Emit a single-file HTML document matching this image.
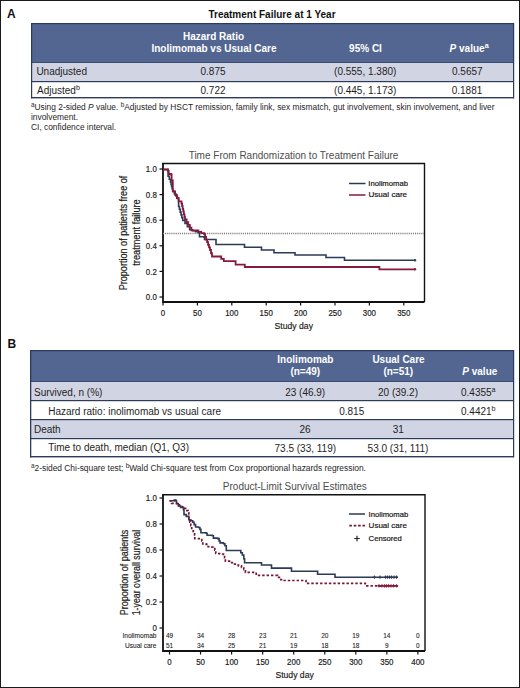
<!DOCTYPE html>
<html><head><meta charset="utf-8"><style>
html,body{margin:0;padding:0;background:#fff;}
#fig{position:relative;width:520px;height:688px;box-sizing:border-box;border:1px solid #1a1a1a;overflow:hidden;background:#fff;}
svg{position:absolute;left:-1px;top:-1px;font-family:"Liberation Sans", sans-serif;}
</style></head><body>
<div id="fig"><svg width="520" height="688" viewBox="0 0 520 688">
<text x="7.0" y="17.6" font-size="12" text-anchor="start" font-weight="bold" fill="#111" >A</text>
<text x="7.4" y="348.3" font-size="12" text-anchor="start" font-weight="bold" fill="#111" >B</text>
<text x="272" y="18.2" font-size="10" text-anchor="middle" font-weight="bold" fill="#111" >Treatment Failure at 1 Year</text>
<rect x="31" y="23" width="483" height="40" fill="#526691"/>
<rect x="31" y="63" width="483" height="18" fill="#d1d4e3"/>
<rect x="31" y="82" width="483" height="16" fill="#ffffff"/>
<rect x="31" y="23" width="483" height="1.2" fill="#2c3a5c"/>
<rect x="31" y="62" width="483" height="1" fill="#3b4d75"/>
<rect x="31" y="81" width="483" height="1.2" fill="#2c3a5c"/>
<rect x="31" y="97" width="483" height="1.4" fill="#2c3a5c"/>
<rect x="31" y="23" width="1.2" height="75.4" fill="#2c3a5c"/>
<rect x="513" y="23" width="1.2" height="75.4" fill="#2c3a5c"/>
<text x="213.5" y="40" font-size="10" text-anchor="middle" font-weight="bold" fill="#ffffff" >Hazard Ratio</text>
<text x="214" y="51.7" font-size="10" text-anchor="middle" font-weight="bold" fill="#ffffff" >Inolimomab vs Usual Care</text>
<text x="365.5" y="51.7" font-size="10" text-anchor="middle" font-weight="bold" fill="#ffffff" >95% CI</text>
<text x="449.6" y="51.7" font-size="10" font-weight="bold" fill="#ffffff"><tspan font-style="italic">P</tspan> value<tspan dy="-3.8" font-size="7.2">a</tspan></text>
<text x="36.4" y="74.7" font-size="10" text-anchor="start" font-weight="normal" fill="#1e1e1e" >Unadjusted</text>
<text x="37" y="93.5" font-size="10" fill="#1e1e1e">Adjusted<tspan dy="-3.8" font-size="7.2">b</tspan></text>
<text x="213" y="74.5" font-size="10" text-anchor="middle" font-weight="normal" fill="#1e1e1e" >0.875</text>
<text x="213" y="93.5" font-size="10" text-anchor="middle" font-weight="normal" fill="#1e1e1e" >0.722</text>
<text x="365.2" y="74.5" font-size="10" text-anchor="middle" font-weight="normal" fill="#1e1e1e" >(0.555, 1.380)</text>
<text x="365.2" y="93.5" font-size="10" text-anchor="middle" font-weight="normal" fill="#1e1e1e" >(0.445, 1.173)</text>
<text x="467.3" y="74.5" font-size="10" text-anchor="middle" font-weight="normal" fill="#1e1e1e" >0.5657</text>
<text x="467.0" y="93.5" font-size="10" text-anchor="middle" font-weight="normal" fill="#1e1e1e" >0.1881</text>
<text x="31" y="109.5" font-size="8.4" fill="#1e1e1e"><tspan dy="-3" font-size="6.3">a</tspan><tspan dy="3">Using 2-sided </tspan><tspan font-style="italic">P</tspan> value. <tspan dy="-3" font-size="6.3">b</tspan><tspan dy="3">Adjusted by HSCT remission, family link, sex mismatch, gut involvement, skin involvement, and liver</tspan></text>
<text x="31" y="119.8" font-size="8.4" text-anchor="start" font-weight="normal" fill="#1e1e1e" >involvement.</text>
<text x="31" y="130" font-size="8.4" text-anchor="start" font-weight="normal" fill="#1e1e1e" >CI, confidence interval.</text>
<text x="293.5" y="158.8" font-size="10" text-anchor="middle" font-weight="normal" fill="#4d4d4d" >Time From Randomization to Treatment Failure</text>
<path d="M162.1,163.5 H424.5 V302" fill="none" stroke="#111111" stroke-width="1.4"/>
<path d="M163,163 V302 H424.5" fill="none" stroke="#111111" stroke-width="1.8"/>
<line x1="159.5" y1="297" x2="163" y2="297" stroke="#111111" stroke-width="1.2"/>
<text transform="translate(156.8,300.1) scale(0.9,1)" x="0" y="0" font-size="8.8" text-anchor="end" fill="#1a1a1a" stroke="#1a1a1a" stroke-width="0.18">0.0</text>
<line x1="159.5" y1="271.4" x2="163" y2="271.4" stroke="#111111" stroke-width="1.2"/>
<text transform="translate(156.8,274.5) scale(0.9,1)" x="0" y="0" font-size="8.8" text-anchor="end" fill="#1a1a1a" stroke="#1a1a1a" stroke-width="0.18">0.2</text>
<line x1="159.5" y1="245.8" x2="163" y2="245.8" stroke="#111111" stroke-width="1.2"/>
<text transform="translate(156.8,248.9) scale(0.9,1)" x="0" y="0" font-size="8.8" text-anchor="end" fill="#1a1a1a" stroke="#1a1a1a" stroke-width="0.18">0.4</text>
<line x1="159.5" y1="220.2" x2="163" y2="220.2" stroke="#111111" stroke-width="1.2"/>
<text transform="translate(156.8,223.29999999999998) scale(0.9,1)" x="0" y="0" font-size="8.8" text-anchor="end" fill="#1a1a1a" stroke="#1a1a1a" stroke-width="0.18">0.6</text>
<line x1="159.5" y1="194.6" x2="163" y2="194.6" stroke="#111111" stroke-width="1.2"/>
<text transform="translate(156.8,197.7) scale(0.9,1)" x="0" y="0" font-size="8.8" text-anchor="end" fill="#1a1a1a" stroke="#1a1a1a" stroke-width="0.18">0.8</text>
<line x1="159.5" y1="169.0" x2="163" y2="169.0" stroke="#111111" stroke-width="1.2"/>
<text transform="translate(156.8,172.1) scale(0.9,1)" x="0" y="0" font-size="8.8" text-anchor="end" fill="#1a1a1a" stroke="#1a1a1a" stroke-width="0.18">1.0</text>
<line x1="163.0" y1="302" x2="163.0" y2="305.5" stroke="#111111" stroke-width="1.2"/>
<text transform="translate(163.0,316.1) scale(0.9,1)" x="0" y="0" font-size="8.8" text-anchor="middle" fill="#1a1a1a" stroke="#1a1a1a" stroke-width="0.18">0</text>
<line x1="197.4" y1="302" x2="197.4" y2="305.5" stroke="#111111" stroke-width="1.2"/>
<text transform="translate(197.4,316.1) scale(0.9,1)" x="0" y="0" font-size="8.8" text-anchor="middle" fill="#1a1a1a" stroke="#1a1a1a" stroke-width="0.18">50</text>
<line x1="231.8" y1="302" x2="231.8" y2="305.5" stroke="#111111" stroke-width="1.2"/>
<text transform="translate(231.8,316.1) scale(0.9,1)" x="0" y="0" font-size="8.8" text-anchor="middle" fill="#1a1a1a" stroke="#1a1a1a" stroke-width="0.18">100</text>
<line x1="266.2" y1="302" x2="266.2" y2="305.5" stroke="#111111" stroke-width="1.2"/>
<text transform="translate(266.2,316.1) scale(0.9,1)" x="0" y="0" font-size="8.8" text-anchor="middle" fill="#1a1a1a" stroke="#1a1a1a" stroke-width="0.18">150</text>
<line x1="300.6" y1="302" x2="300.6" y2="305.5" stroke="#111111" stroke-width="1.2"/>
<text transform="translate(300.6,316.1) scale(0.9,1)" x="0" y="0" font-size="8.8" text-anchor="middle" fill="#1a1a1a" stroke="#1a1a1a" stroke-width="0.18">200</text>
<line x1="335.0" y1="302" x2="335.0" y2="305.5" stroke="#111111" stroke-width="1.2"/>
<text transform="translate(335.0,316.1) scale(0.9,1)" x="0" y="0" font-size="8.8" text-anchor="middle" fill="#1a1a1a" stroke="#1a1a1a" stroke-width="0.18">250</text>
<line x1="369.4" y1="302" x2="369.4" y2="305.5" stroke="#111111" stroke-width="1.2"/>
<text transform="translate(369.4,316.1) scale(0.9,1)" x="0" y="0" font-size="8.8" text-anchor="middle" fill="#1a1a1a" stroke="#1a1a1a" stroke-width="0.18">300</text>
<line x1="403.79999999999995" y1="302" x2="403.79999999999995" y2="305.5" stroke="#111111" stroke-width="1.2"/>
<text transform="translate(403.79999999999995,316.1) scale(0.9,1)" x="0" y="0" font-size="8.8" text-anchor="middle" fill="#1a1a1a" stroke="#1a1a1a" stroke-width="0.18">350</text>
<text transform="translate(293.8,328.8) scale(0.9,1)" x="0" y="0" font-size="9.6" text-anchor="middle" fill="#1a1a1a" stroke="#1a1a1a" stroke-width="0.18">Study day</text>
<text transform="translate(127.4,233) rotate(-90) scale(0.91,1)" x="0" y="0" font-size="10" text-anchor="middle" fill="#1a1a1a" stroke="#1a1a1a" stroke-width="0.18">Proportion of patients free of</text>
<text transform="translate(140.2,232.5) rotate(-90) scale(0.92,1)" x="0" y="0" font-size="10" text-anchor="middle" fill="#1a1a1a" stroke="#1a1a1a" stroke-width="0.18">treatment failure</text>
<line x1="163" y1="233.5" x2="424" y2="233.5" stroke="#7a7a7a" stroke-width="1.5" stroke-dasharray="1.1,1"/>
<path d="M163,169.5 H167.6 V169.8 H168.1 V176.3 H169.30 V179.20 H170.50 V182.10 H171.07 V184.43 H171.65 V186.75 H172.23 V189.07 H172.80 V191.40 H174.33 V193.73 H175.87 V196.07 H177.40 V198.40 H178.6 V206.5 H179.42 V209.30 H180.24 V212.10 H181.06 V214.90 H181.88 V217.70 H182.70 V220.50 H185.00 V223.40 H187.35 V226.60 H189.70 V229.80 H192.60 V230.77 H195.50 V231.73 H198.40 V232.70 H199.5 V236.7 H204.2 V237.3 H204.5 V239.5 H215.5 V239.5 H216 V244.5 H244 V244.5 H244.5 V247.3 H261 V247.3 H261.5 V250 H273.5 V250 H274 V252.8 H294.5 V252.8 H295 V255 H325.5 V255 H326 V257.5 H344 V257.5 H344.5 V260.3 H415 V260.3" fill="none" stroke="#2b3a5a" stroke-width="1.6"/>
<path d="M163,169.5 H168.1 V170.8 H168.7 V174 H171 V174.5 H171.6 V180.3 H172.8 V191.4 H175.10 V194.90 H176.85 V198.10 H178.60 V201.30 H181.50 V203.60 H182.08 V206.22 H182.67 V208.83 H183.25 V211.45 H183.83 V214.07 H184.42 V216.68 H185.00 V219.30 H186.60 V222.05 H188.20 V224.80 H189.80 V227.55 H191.40 V230.30 H198.4 V231.8 H201.30 V233.10 H204.20 V234.40 H205.17 V237.00 H206.13 V239.60 H207.10 V242.20 H208.07 V244.80 H209.03 V247.40 H210.00 V250.00 H211.00 V253.25 H212.00 V256.50 H221 V256.5 H221.2 V258.8 H223.80 V261.20 H235.4 V261.2 H235.6 V264.6 H244.6 V264.6 H244.8 V267 H379.2 V267 H379.4 V269.3 H415 V269.3" fill="none" stroke="#861a3c" stroke-width="1.8"/>
<circle cx="415" cy="260.3" r="1.2" fill="#2b3a5a"/>
<circle cx="415" cy="269.3" r="1.2" fill="#861a3c"/>
<line x1="349" y1="183.5" x2="365.5" y2="183.5" stroke="#2b3a5a" stroke-width="1.5"/>
<line x1="349" y1="195" x2="365.5" y2="195" stroke="#861a3c" stroke-width="1.5"/>
<text transform="translate(368.3,186.3) scale(0.96,1)" x="0" y="0" font-size="8" text-anchor="start" fill="#111" stroke="#111" stroke-width="0.18">Inolimomab</text>
<text transform="translate(368.5,197.4) scale(1.01,1)" x="0" y="0" font-size="8" text-anchor="start" fill="#111" stroke="#111" stroke-width="0.18">Usual care</text>
<rect x="30" y="350" width="484" height="32" fill="#526691"/>
<rect x="30" y="382" width="484" height="18" fill="#d1d4e3"/>
<rect x="30" y="401" width="484" height="18" fill="#ffffff"/>
<rect x="30" y="420" width="484" height="18" fill="#d1d4e3"/>
<rect x="30" y="439" width="484" height="18" fill="#ffffff"/>
<rect x="30" y="350" width="484" height="1.2" fill="#2c3a5c"/>
<rect x="30" y="381" width="484" height="1" fill="#3b4d75"/>
<rect x="30" y="400" width="484" height="1.2" fill="#2c3a5c"/>
<rect x="30" y="419" width="484" height="1.2" fill="#2c3a5c"/>
<rect x="30" y="438" width="484" height="1.2" fill="#2c3a5c"/>
<rect x="30" y="456" width="484" height="1.4" fill="#2c3a5c"/>
<rect x="30" y="350" width="1.3" height="107.39999999999998" fill="#2c3a5c"/>
<rect x="513" y="350" width="1.2" height="107.39999999999998" fill="#2c3a5c"/>
<text x="305.4" y="362.6" font-size="10" text-anchor="middle" font-weight="bold" fill="#ffffff" >Inolimomab</text>
<text x="305.3" y="375.2" font-size="10" text-anchor="middle" font-weight="bold" fill="#ffffff" >(n=49)</text>
<text x="398.5" y="362.6" font-size="10" text-anchor="middle" font-weight="bold" fill="#ffffff" >Usual Care</text>
<text x="398.3" y="375.2" font-size="10" text-anchor="middle" font-weight="bold" fill="#ffffff" >(n=51)</text>
<text x="462.3" y="375" font-size="10" font-weight="bold" fill="#ffffff"><tspan font-style="italic">P</tspan> value</text>
<text x="34" y="395.8" font-size="10" text-anchor="start" font-weight="normal" fill="#1e1e1e" >Survived, n (%)</text>
<text x="48.2" y="414.7" font-size="10" text-anchor="start" font-weight="normal" fill="#1e1e1e" >Hazard ratio: inolimomab vs usual care</text>
<text x="34" y="432.8" font-size="10" text-anchor="start" font-weight="normal" fill="#1e1e1e" >Death</text>
<text x="48.2" y="451.4" font-size="10" text-anchor="start" font-weight="normal" fill="#1e1e1e" >Time to death, median (Q1, Q3)</text>
<text x="305.2" y="395.7" font-size="10" text-anchor="middle" font-weight="normal" fill="#1e1e1e" >23 (46.9)</text>
<text x="398" y="395.7" font-size="10" text-anchor="middle" font-weight="normal" fill="#1e1e1e" >20 (39.2)</text>
<text x="461" y="395.7" font-size="10" fill="#1e1e1e">0.4355<tspan dy="-3.8" font-size="7.2">a</tspan></text>
<text x="351.7" y="414.6" font-size="10" text-anchor="middle" font-weight="normal" fill="#1e1e1e" >0.815</text>
<text x="461" y="414.6" font-size="10" fill="#1e1e1e">0.4421<tspan dy="-3.8" font-size="7.2">b</tspan></text>
<text x="305.1" y="432.7" font-size="10" text-anchor="middle" font-weight="normal" fill="#1e1e1e" >26</text>
<text x="398.3" y="432.7" font-size="10" text-anchor="middle" font-weight="normal" fill="#1e1e1e" >31</text>
<text x="305.3" y="451.5" font-size="10" text-anchor="middle" font-weight="normal" fill="#1e1e1e" >73.5 (33, 119)</text>
<text x="398" y="451.5" font-size="10" text-anchor="middle" font-weight="normal" fill="#1e1e1e" >53.0 (31, 111)</text>
<text x="31" y="470.8" font-size="8.4" fill="#1e1e1e"><tspan dy="-3" font-size="6.3">a</tspan><tspan dy="3">2-sided Chi-square test; </tspan><tspan dy="-3" font-size="6.3">b</tspan><tspan dy="3">Wald Chi-square test from Cox proportional hazards regression.</tspan></text>
<text x="294.8" y="490" font-size="10" text-anchor="middle" font-weight="normal" fill="#4d4d4d" >Product-Limit Survival Estimates</text>
<path d="M162.1,494.8 H425 V651" fill="none" stroke="#111111" stroke-width="1.4"/>
<path d="M163,494.2 V651 H425" fill="none" stroke="#111111" stroke-width="1.8"/>
<line x1="159.5" y1="628" x2="163" y2="628" stroke="#111111" stroke-width="1.2"/>
<text transform="translate(156.8,631.1) scale(0.9,1)" x="0" y="0" font-size="8.8" text-anchor="end" fill="#1a1a1a" stroke="#1a1a1a" stroke-width="0.18">0</text>
<line x1="159.5" y1="602.0" x2="163" y2="602.0" stroke="#111111" stroke-width="1.2"/>
<text transform="translate(156.8,605.1) scale(0.9,1)" x="0" y="0" font-size="8.8" text-anchor="end" fill="#1a1a1a" stroke="#1a1a1a" stroke-width="0.18">0.2</text>
<line x1="159.5" y1="576.0" x2="163" y2="576.0" stroke="#111111" stroke-width="1.2"/>
<text transform="translate(156.8,579.1) scale(0.9,1)" x="0" y="0" font-size="8.8" text-anchor="end" fill="#1a1a1a" stroke="#1a1a1a" stroke-width="0.18">0.4</text>
<line x1="159.5" y1="550.0" x2="163" y2="550.0" stroke="#111111" stroke-width="1.2"/>
<text transform="translate(156.8,553.1) scale(0.9,1)" x="0" y="0" font-size="8.8" text-anchor="end" fill="#1a1a1a" stroke="#1a1a1a" stroke-width="0.18">0.6</text>
<line x1="159.5" y1="524.0" x2="163" y2="524.0" stroke="#111111" stroke-width="1.2"/>
<text transform="translate(156.8,527.1) scale(0.9,1)" x="0" y="0" font-size="8.8" text-anchor="end" fill="#1a1a1a" stroke="#1a1a1a" stroke-width="0.18">0.8</text>
<line x1="159.5" y1="498.0" x2="163" y2="498.0" stroke="#111111" stroke-width="1.2"/>
<text transform="translate(156.8,501.1) scale(0.9,1)" x="0" y="0" font-size="8.8" text-anchor="end" fill="#1a1a1a" stroke="#1a1a1a" stroke-width="0.18">1.0</text>
<line x1="169.5" y1="651" x2="169.5" y2="654.5" stroke="#111111" stroke-width="1.2"/>
<text transform="translate(169.5,665.2) scale(0.9,1)" x="0" y="0" font-size="8.8" text-anchor="middle" fill="#1a1a1a" stroke="#1a1a1a" stroke-width="0.18">0</text>
<line x1="200.55" y1="651" x2="200.55" y2="654.5" stroke="#111111" stroke-width="1.2"/>
<text transform="translate(200.55,665.2) scale(0.9,1)" x="0" y="0" font-size="8.8" text-anchor="middle" fill="#1a1a1a" stroke="#1a1a1a" stroke-width="0.18">50</text>
<line x1="231.6" y1="651" x2="231.6" y2="654.5" stroke="#111111" stroke-width="1.2"/>
<text transform="translate(231.6,665.2) scale(0.9,1)" x="0" y="0" font-size="8.8" text-anchor="middle" fill="#1a1a1a" stroke="#1a1a1a" stroke-width="0.18">100</text>
<line x1="262.65" y1="651" x2="262.65" y2="654.5" stroke="#111111" stroke-width="1.2"/>
<text transform="translate(262.65,665.2) scale(0.9,1)" x="0" y="0" font-size="8.8" text-anchor="middle" fill="#1a1a1a" stroke="#1a1a1a" stroke-width="0.18">150</text>
<line x1="293.7" y1="651" x2="293.7" y2="654.5" stroke="#111111" stroke-width="1.2"/>
<text transform="translate(293.7,665.2) scale(0.9,1)" x="0" y="0" font-size="8.8" text-anchor="middle" fill="#1a1a1a" stroke="#1a1a1a" stroke-width="0.18">200</text>
<line x1="324.75" y1="651" x2="324.75" y2="654.5" stroke="#111111" stroke-width="1.2"/>
<text transform="translate(324.75,665.2) scale(0.9,1)" x="0" y="0" font-size="8.8" text-anchor="middle" fill="#1a1a1a" stroke="#1a1a1a" stroke-width="0.18">250</text>
<line x1="355.8" y1="651" x2="355.8" y2="654.5" stroke="#111111" stroke-width="1.2"/>
<text transform="translate(355.8,665.2) scale(0.9,1)" x="0" y="0" font-size="8.8" text-anchor="middle" fill="#1a1a1a" stroke="#1a1a1a" stroke-width="0.18">300</text>
<line x1="386.85" y1="651" x2="386.85" y2="654.5" stroke="#111111" stroke-width="1.2"/>
<text transform="translate(386.85,665.2) scale(0.9,1)" x="0" y="0" font-size="8.8" text-anchor="middle" fill="#1a1a1a" stroke="#1a1a1a" stroke-width="0.18">350</text>
<line x1="417.9" y1="651" x2="417.9" y2="654.5" stroke="#111111" stroke-width="1.2"/>
<text transform="translate(417.9,665.2) scale(0.9,1)" x="0" y="0" font-size="8.8" text-anchor="middle" fill="#1a1a1a" stroke="#1a1a1a" stroke-width="0.18">400</text>
<text transform="translate(294.6,678) scale(0.9,1)" x="0" y="0" font-size="9.6" text-anchor="middle" fill="#1a1a1a" stroke="#1a1a1a" stroke-width="0.18">Study day</text>
<text transform="translate(128,572.5) rotate(-90) scale(0.9,1)" x="0" y="0" font-size="10" text-anchor="middle" fill="#1a1a1a" stroke="#1a1a1a" stroke-width="0.18">Proportion of patients</text>
<text transform="translate(139.8,572.6) rotate(-90) scale(0.88,1)" x="0" y="0" font-size="10" text-anchor="middle" fill="#1a1a1a" stroke="#1a1a1a" stroke-width="0.18">1-year overall survival</text>
<text transform="translate(156.5,638.3) scale(1,1)" x="0" y="0" font-size="6.6" text-anchor="end" fill="#1a1a1a" stroke="#1a1a1a" stroke-width="0.08">Inolimomab</text>
<text transform="translate(156.5,647.6) scale(1,1)" x="0" y="0" font-size="6.6" text-anchor="end" fill="#1a1a1a" stroke="#1a1a1a" stroke-width="0.08">Usual care</text>
<text transform="translate(169.5,638.3) scale(1,1)" x="0" y="0" font-size="6.5" text-anchor="middle" fill="#1a1a1a" stroke="#1a1a1a" stroke-width="0.08">49</text>
<text transform="translate(169.5,647.6) scale(1,1)" x="0" y="0" font-size="6.5" text-anchor="middle" fill="#1a1a1a" stroke="#1a1a1a" stroke-width="0.08">51</text>
<text transform="translate(200.55,638.3) scale(1,1)" x="0" y="0" font-size="6.5" text-anchor="middle" fill="#1a1a1a" stroke="#1a1a1a" stroke-width="0.08">34</text>
<text transform="translate(200.55,647.6) scale(1,1)" x="0" y="0" font-size="6.5" text-anchor="middle" fill="#1a1a1a" stroke="#1a1a1a" stroke-width="0.08">34</text>
<text transform="translate(231.6,638.3) scale(1,1)" x="0" y="0" font-size="6.5" text-anchor="middle" fill="#1a1a1a" stroke="#1a1a1a" stroke-width="0.08">28</text>
<text transform="translate(231.6,647.6) scale(1,1)" x="0" y="0" font-size="6.5" text-anchor="middle" fill="#1a1a1a" stroke="#1a1a1a" stroke-width="0.08">25</text>
<text transform="translate(262.65,638.3) scale(1,1)" x="0" y="0" font-size="6.5" text-anchor="middle" fill="#1a1a1a" stroke="#1a1a1a" stroke-width="0.08">23</text>
<text transform="translate(262.65,647.6) scale(1,1)" x="0" y="0" font-size="6.5" text-anchor="middle" fill="#1a1a1a" stroke="#1a1a1a" stroke-width="0.08">21</text>
<text transform="translate(293.7,638.3) scale(1,1)" x="0" y="0" font-size="6.5" text-anchor="middle" fill="#1a1a1a" stroke="#1a1a1a" stroke-width="0.08">21</text>
<text transform="translate(293.7,647.6) scale(1,1)" x="0" y="0" font-size="6.5" text-anchor="middle" fill="#1a1a1a" stroke="#1a1a1a" stroke-width="0.08">19</text>
<text transform="translate(324.75,638.3) scale(1,1)" x="0" y="0" font-size="6.5" text-anchor="middle" fill="#1a1a1a" stroke="#1a1a1a" stroke-width="0.08">20</text>
<text transform="translate(324.75,647.6) scale(1,1)" x="0" y="0" font-size="6.5" text-anchor="middle" fill="#1a1a1a" stroke="#1a1a1a" stroke-width="0.08">18</text>
<text transform="translate(355.8,638.3) scale(1,1)" x="0" y="0" font-size="6.5" text-anchor="middle" fill="#1a1a1a" stroke="#1a1a1a" stroke-width="0.08">19</text>
<text transform="translate(355.8,647.6) scale(1,1)" x="0" y="0" font-size="6.5" text-anchor="middle" fill="#1a1a1a" stroke="#1a1a1a" stroke-width="0.08">18</text>
<text transform="translate(386.85,638.3) scale(1,1)" x="0" y="0" font-size="6.5" text-anchor="middle" fill="#1a1a1a" stroke="#1a1a1a" stroke-width="0.08">14</text>
<text transform="translate(386.85,647.6) scale(1,1)" x="0" y="0" font-size="6.5" text-anchor="middle" fill="#1a1a1a" stroke="#1a1a1a" stroke-width="0.08">9</text>
<text transform="translate(417.9,638.3) scale(1,1)" x="0" y="0" font-size="6.5" text-anchor="middle" fill="#1a1a1a" stroke="#1a1a1a" stroke-width="0.08">0</text>
<text transform="translate(417.9,647.6) scale(1,1)" x="0" y="0" font-size="6.5" text-anchor="middle" fill="#1a1a1a" stroke="#1a1a1a" stroke-width="0.08">0</text>
<path d="M169.6,500.8 H174.2 V500.3 H176 V500.8 H176.5 V503.7 H178.30 V506.00 H180.6 V507.4 H183.50 V510.00 H184 V514.6 H186.30 V516.40 H188.80 V519.80 H190.8 V520.8 H192.7 V522.2 H194.1 V524.6 H195.6 V527 H198.5 V527.5 H199.9 V529.4 H200.9 V532.8 H206.2 V533.3 H207.1 V535.2 H212.4 V535.7 H213.4 V538.1 H217.7 V538.6 H219.1 V541 H220.1 V542.9 H223.5 V543.8 H224.9 V545.8 H226.3 V550.5 H239.2 V550.5 H240.80 V552.70 H242.3 V555 H243.8 V558.8 H244.6 V562.7 H260.8 V562.7 H261.5 V565 H270.8 V565 H271.5 V568.1 H290.8 V568.1 H291.5 V571.3 H317.3 V571.3 H317.6 V574.2 H334.7 V574.2 H335 V577.2 H398 V577.2" fill="none" stroke="#2b3a5a" stroke-width="1.6"/>
<path d="M169.5,500.8 H171.5 V500.8 H171.6 V503.3 H176.5 V503.3 H179.40 V506.50 H182.30 V508.30 H185.8 V508.3 H186.9 V510.6 H188.1 V512.9 H188.8 V519.8 H189.8 V522.2 H190.8 V525.6 H191.7 V528.5 H193.2 V531.3 H194.6 V535.2 H194.8 V538.6 H198.5 V538.6 H200.4 V539.5 H201.8 V541 H202.8 V543.8 H206.2 V544.3 H208.10 V546.70 H211 V547.2 H212.9 V548.7 H214.8 V550.1 H215.8 V553.5 H219.6 V554 H223.5 V554.4 H224.6 V557.7 H225.4 V561.2 H229.2 V561.2 H230.8 V562.7 H234.6 V564.2 H236.55 V565.00 H238.50 V565.80 H241.5 V567.3 H243.80 V569.60 H245.40 V572.40 H254.6 V572.4 H256.20 V575.30 H274.6 V575.3 H277.70 V577.30 H280.80 V579.60 H281.5 V580.5 H305.8 V580.5 H306 V583.4 H365 V583.4 H365.3 V585.8 H398 V585.8" fill="none" stroke="#761535" stroke-width="1.7" stroke-dasharray="2.4,2"/>
<path d="M372.79999999999995,577.2 H376.0 M374.4,575.6 V578.8000000000001" stroke="#2b3a5a" stroke-width="1.1"/>
<path d="M378.4,577.2 H381.6 M380,575.6 V578.8000000000001" stroke="#2b3a5a" stroke-width="1.1"/>
<path d="M383.9,577.2 H387.1 M385.5,575.6 V578.8000000000001" stroke="#2b3a5a" stroke-width="1.1"/>
<path d="M385.9,577.2 H389.1 M387.5,575.6 V578.8000000000001" stroke="#2b3a5a" stroke-width="1.1"/>
<path d="M387.9,577.2 H391.1 M389.5,575.6 V578.8000000000001" stroke="#2b3a5a" stroke-width="1.1"/>
<path d="M389.9,577.2 H393.1 M391.5,575.6 V578.8000000000001" stroke="#2b3a5a" stroke-width="1.1"/>
<path d="M392.4,577.2 H395.6 M394,575.6 V578.8000000000001" stroke="#2b3a5a" stroke-width="1.1"/>
<path d="M394.9,577.2 H398.1 M396.5,575.6 V578.8000000000001" stroke="#2b3a5a" stroke-width="1.1"/>
<line x1="378" y1="585.8" x2="398" y2="585.8" stroke="#861a3c" stroke-width="1.6"/>
<path d="M377.4,585.8 H380.6 M379,584.1999999999999 V587.4" stroke="#861a3c" stroke-width="1.1"/>
<path d="M380.4,585.8 H383.6 M382,584.1999999999999 V587.4" stroke="#861a3c" stroke-width="1.1"/>
<path d="M382.9,585.8 H386.1 M384.5,584.1999999999999 V587.4" stroke="#861a3c" stroke-width="1.1"/>
<path d="M384.9,585.8 H388.1 M386.5,584.1999999999999 V587.4" stroke="#861a3c" stroke-width="1.1"/>
<path d="M386.9,585.8 H390.1 M388.5,584.1999999999999 V587.4" stroke="#861a3c" stroke-width="1.1"/>
<path d="M389.4,585.8 H392.6 M391,584.1999999999999 V587.4" stroke="#861a3c" stroke-width="1.1"/>
<path d="M391.9,585.8 H395.1 M393.5,584.1999999999999 V587.4" stroke="#861a3c" stroke-width="1.1"/>
<path d="M394.9,585.8 H398.1 M396.5,584.1999999999999 V587.4" stroke="#861a3c" stroke-width="1.1"/>
<path d="M173.6,500.3 H176.4 M175,498.90000000000003 V501.7" stroke="#2b3a5a" stroke-width="1.1"/>
<line x1="349" y1="514" x2="365" y2="514" stroke="#2b3a5a" stroke-width="1.5"/>
<line x1="349.3" y1="525.6" x2="365" y2="525.6" stroke="#761535" stroke-width="1.7" stroke-dasharray="2.6,1.8"/>
<path d="M354.2,538.5 H359.8 M357,535.8 V541.2" stroke="#222" stroke-width="1.2"/>
<text transform="translate(368.6,516.8) scale(0.96,1)" x="0" y="0" font-size="8" text-anchor="start" fill="#111" stroke="#111" stroke-width="0.18">Inolimomab</text>
<text transform="translate(368.6,528.2) scale(1.0,1)" x="0" y="0" font-size="8" text-anchor="start" fill="#111" stroke="#111" stroke-width="0.18">Usual care</text>
<text transform="translate(368.6,541.2) scale(0.96,1)" x="0" y="0" font-size="8" text-anchor="start" fill="#111" stroke="#111" stroke-width="0.18">Censored</text>
</svg></div>
</body></html>
